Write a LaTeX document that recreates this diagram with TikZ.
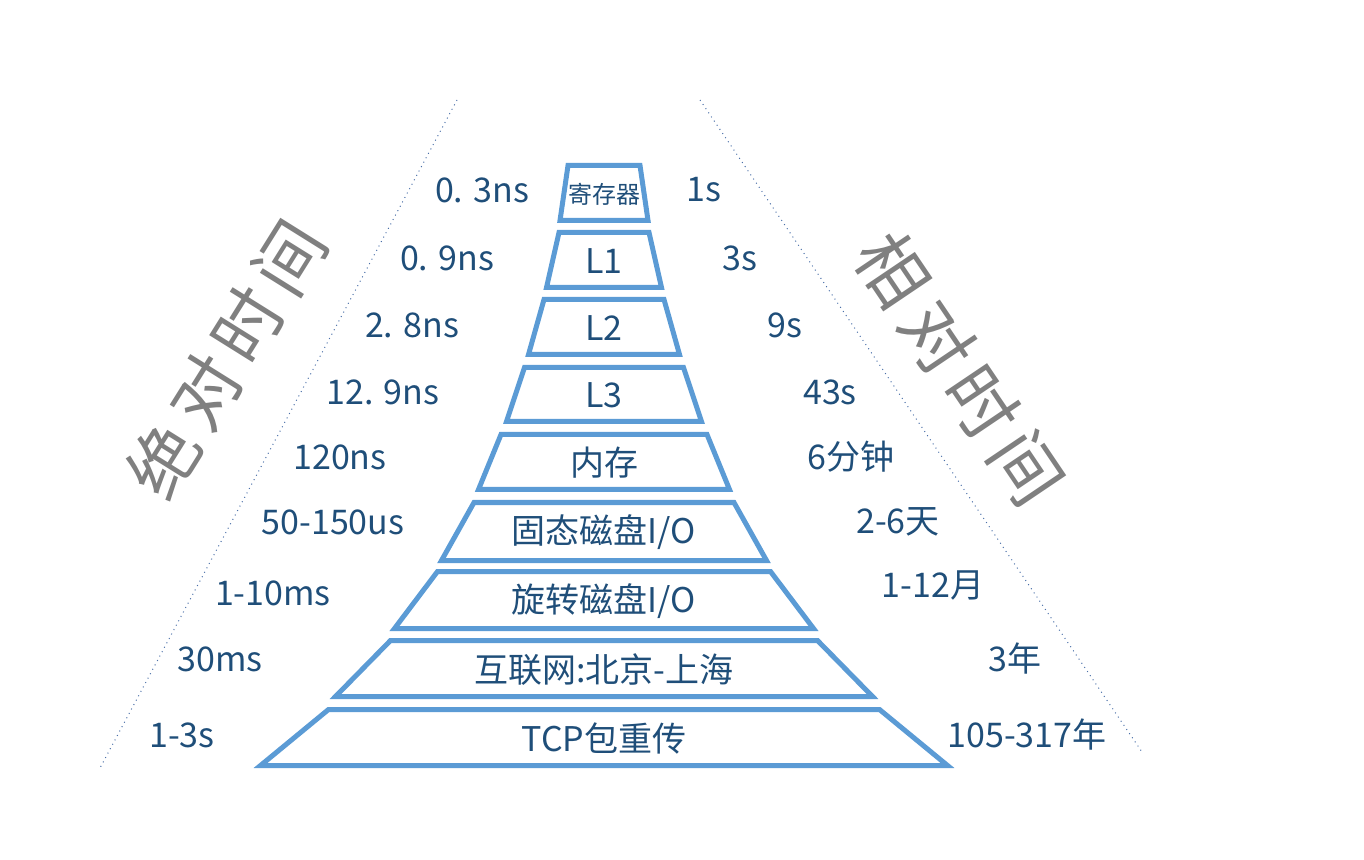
\documentclass[tikz,border=0pt]{standalone}
\usepackage{fontspec}
\setmainfont{Noto Sans CJK SC}
\usetikzlibrary{calc}
\definecolor{tierblue}{HTML}{5B9BD5}
\definecolor{txtblue}{HTML}{1F4E79}
\definecolor{dotblue}{HTML}{4A6FA8}
\definecolor{biggray}{HTML}{808080}
\newcommand\tier[6]{%
  \draw[tierline] ({604-#1},#3) -- ({604+#1},#3) -- ({604+#2},#4) -- ({604-#2},#4) -- cycle;
  \node[tiertext] (#5) at (604,{(#3+#4)/2+1}) {#6};}
\begin{document}
\begin{tikzpicture}[x=0.5pt,y=-0.5pt,
  tierline/.style={draw=tierblue,line width=2.5pt},
  tiertext/.style={text=txtblue,font=\fontsize{17}{19}\selectfont,inner sep=0pt},
  lbl/.style={text=txtblue,font=\fontsize{17}{19}\selectfont,inner sep=0pt},
  bigtext/.style={text=biggray,font=\fontsize{35}{38}\selectfont,inner sep=0pt},
  guide/.style={draw=dotblue,line width=0.5pt,dotted}]
\useasboundingbox (0,0) rectangle (1364,860);
% guide lines
\coordinate (gl1) at (457,100); \coordinate (gl2) at (100,768);
\coordinate (gr1) at (700,100); \coordinate (gr2) at (1142,752);
\draw[guide] (gl1) -- (gl2);
\draw[guide] (gr1) -- (gr2);
% tiers
\tier{36}{44}{165.5}{220.5}{t1}{\fontsize{12}{13}\selectfont 寄存器}
\tier{45}{57.5}{232.5}{287.5}{t2}{L1}
\tier{60}{75.5}{299.5}{354.5}{t3}{L2}
\tier{79.5}{97.5}{367.5}{421.5}{t4}{L3}
\tier{103}{125.5}{434.5}{489.5}{t5}{内存}
\tier{130}{162.5}{502.5}{560.5}{t6}{固态磁盘I/O}
\tier{166.5}{209.5}{571.5}{628.5}{t7}{旋转磁盘I/O}
\tier{213.5}{268.5}{640.5}{696.5}{t8}{互联网:北京-上海}
\tier{275.5}{343.5}{709.5}{765.5}{t9}{TCP包重传}
% left labels
\node[lbl] (a1) at (482,190) {0. 3ns};
\node[lbl] (a2) at (447,258) {0. 9ns};
\node[lbl] (a3) at (412,325) {2. 8ns};
\node[lbl] (a4) at (383,392) {12. 9ns};
\node[lbl] (a5) at (340,457) {120ns};
\node[lbl] (a6) at (333,522) {50-150us};
\node[lbl] (a7) at (273,593) {1-10ms};
\node[lbl] (a8) at (220,659) {30ms};
\node[lbl] (a9) at (182,735) {1-3s};
% right labels
\node[lbl] (b1) at (704,190) {1s};
\node[lbl] (b2) at (740,258) {3s};
\node[lbl] (b3) at (785,325) {9s};
\node[lbl] (b4) at (830,392) {43s};
\node[lbl] (b5) at (851,457) {6分钟};
\node[lbl] (b6) at (898,522) {2-6天};
\node[lbl] (b7) at (933,585) {1-12月};
\node[lbl] (b8) at (1015,659) {3年};
\node[lbl] (b9) at (1027,735) {105-317年};
% big rotated titles, one glyph each
\node[bigtext,rotate=58] (abs1) at (163,460) {绝};
\node[bigtext,rotate=58] (abs2) at (205,392) {对};
\node[bigtext,rotate=58] (abs3) at (247,325) {时};
\node[bigtext,rotate=58] (abs4) at (290,258) {间};
\node[bigtext,rotate=-56] (rel1) at (893,270) {相};
\node[bigtext,rotate=-56] (rel2) at (938,338) {对};
\node[bigtext,rotate=-56] (rel3) at (982,403) {时};
\node[bigtext,rotate=-56] (rel4) at (1027,468) {间};
\end{tikzpicture}
\end{document}
